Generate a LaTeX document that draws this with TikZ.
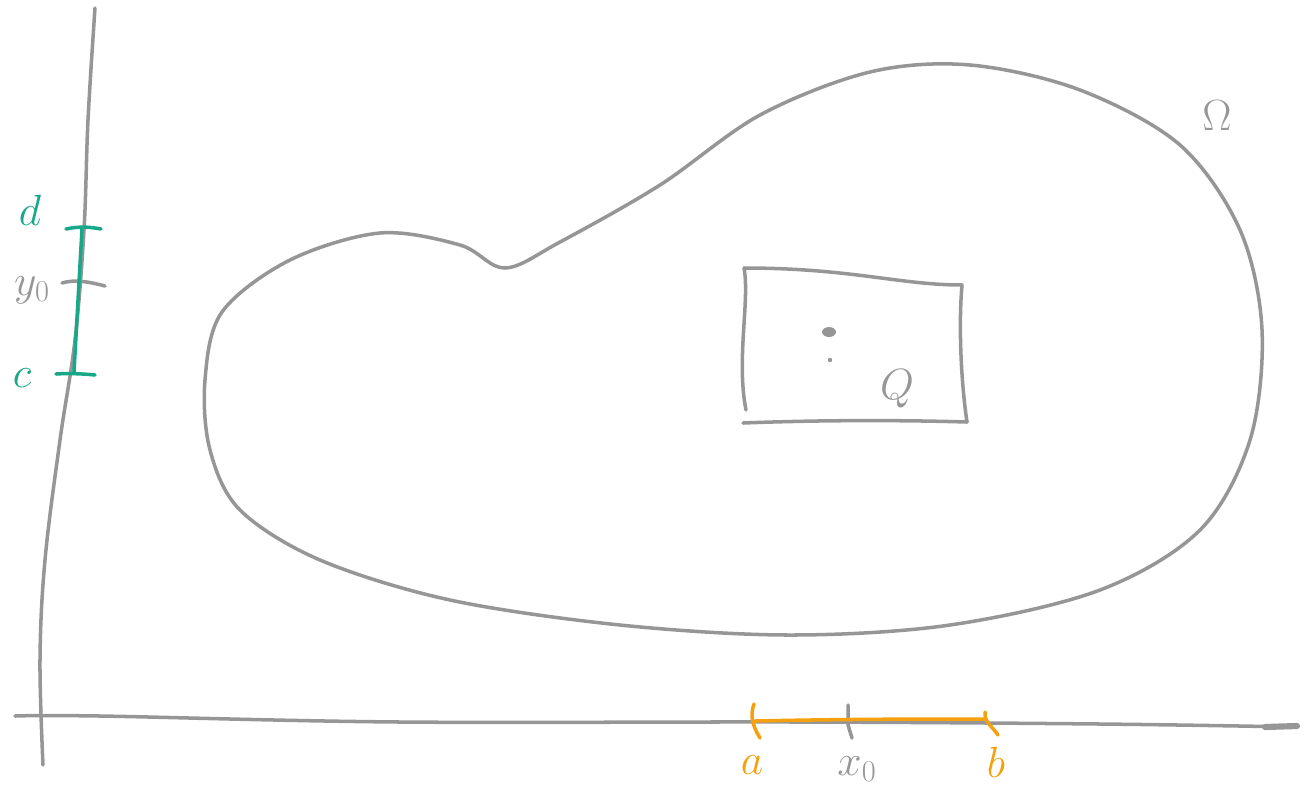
\documentclass[tikz,border=0pt]{standalone}
\usepackage{amsmath}
\usepackage{amssymb}
\usepackage{tikz}

\definecolor{pen}{RGB}{150,150,150}
\definecolor{teal}{RGB}{22,168,136}
\definecolor{amber}{RGB}{245,160,15}

\tikzset{
    sketch/.style={pen, line width=2pt, line cap=round, line join=round},
    lbl/.style={font=\fontsize{24}{28}\selectfont},
}

\begin{document}
\begin{tikzpicture}[x=0.02cm, y=-0.02cm]
    \useasboundingbox (0,0) rectangle (1310,785);

    % axes
    \draw[sketch] plot[smooth, tension=0.6] coordinates {(95,8) (88,120) (84,230) (75,340) (60,440) (45,560) (40,660) (43,765)};
    \draw[sketch] plot[smooth, tension=0.6] coordinates {(15,716) (100,716) (400,722) (800,722) (1100,724) (1295,727)};
    \draw[sketch, line width=3.5pt] (1265,727) -- (1297,726);

    % the domain
    \draw[sketch] plot[smooth cycle, tension=0.55] coordinates {
        (505,268) (560,242) (660,185) (760,115) (870,72) (970,65)
        (1080,90) (1180,145) (1240,230) (1262,330) (1250,440) (1200,530)
        (1100,590) (950,625) (790,635) (620,625) (450,600) (320,560)
        (240,510) (210,450) (205,380) (222,312) (290,260) (380,233) (460,245)};
    \node[lbl, pen] (omega) at (1217,116) {$\Omega$};

    % the box
    \coordinate (q1) at (744,268);
    \coordinate (q2) at (962,285);
    \coordinate (q3) at (967,422);
    \coordinate (q4) at (743,423);

    \draw[sketch] (q1) .. controls (850,268) and (900,285) .. (q2)
                       .. controls (958,330) and (962,390) .. (q3);
    \draw[sketch] (q4) .. controls (820,420) and (900,420) .. (q3);
    \draw[sketch] (q1) .. controls (750,300) and (736,360) .. (746,410);

    \fill[pen] (829,332) ellipse (7 and 5);
    \fill[pen] (830,360) circle (2.2);
    \node[lbl, pen] (q) at (897,389) {$Q$};

    % interval on the y axis
    \coordinate (d1) at (66,229);
    \coordinate (d2) at (101,229);
    \coordinate (c1) at (56,374);
    \coordinate (c2) at (95,375);
    \coordinate (y1) at (62,283);
    \coordinate (y2) at (105,286);

    \draw[sketch] (y1) .. controls (75,279) and (90,282) .. (y2);
    \draw[sketch, teal] (82,229) -- (74,372);
    \draw[sketch, teal] (d1) .. controls (80,226) and (90,227) .. (d2);
    \draw[sketch, teal] (c1) .. controls (70,373) and (85,374) .. (c2);

    \node[lbl, teal] (d) at (30,210) {$d$};
    \node[lbl, pen] (y0) at (32,290) {$y_0$};
    \node[lbl, teal] (c) at (22,378) {$c$};

    % interval on the x axis
    \coordinate (a1) at (754,704);
    \coordinate (a2) at (760,738);
    \coordinate (b1) at (985,712);
    \coordinate (b2) at (998,735);
    \coordinate (x1) at (848,705);
    \coordinate (x2) at (852,738);

    \draw[sketch] (x1) -- (848,725) -- (x2);
    \draw[sketch, amber] (755,721) .. controls (850,719) and (920,719) .. (985,719);
    \draw[sketch, amber] (a1) .. controls (750,715) and (752,725) .. (a2);
    \draw[sketch, amber] (b1) .. controls (984,722) and (992,726) .. (b2);

    \node[lbl, amber] (a) at (752,765) {$a$};
    \node[lbl, pen] (x0) at (857,769) {$x_0$};
    \node[lbl, amber] (b) at (996,762) {$b$};
\end{tikzpicture}
\end{document}
